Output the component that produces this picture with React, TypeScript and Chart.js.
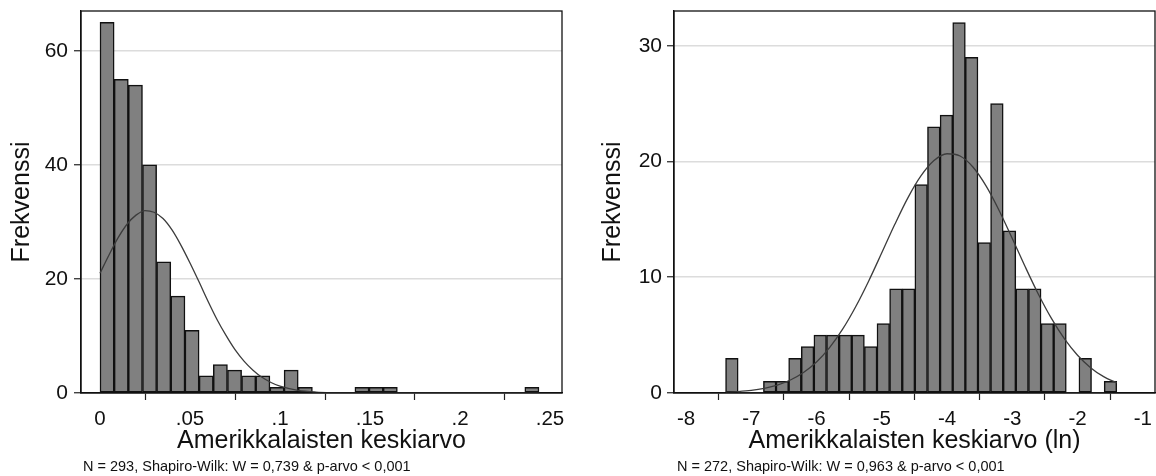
import React, { useEffect, useRef } from 'react';
import { Chart, registerables } from 'chart.js';

Chart.register(...registerables);

const FONT = '"Liberation Sans", Arial, Helvetica, sans-serif';

// ---------- Left panel: raw mean ----------
const leftBinCenters = [
  0.00393, 0.0118, 0.01967, 0.02753, 0.0354, 0.04327, 0.05114, 0.059, 0.06687, 0.07474,
  0.0826, 0.09047, 0.09834, 0.1062, 0.11407, 0.12194, 0.12981, 0.13767, 0.14554, 0.15341,
  0.16127, 0.16914, 0.17701, 0.18487, 0.19274, 0.20061, 0.20848, 0.21634, 0.22421, 0.23208,
  0.23994,
];
const leftCounts = [
  65, 55, 54, 40, 23, 17, 11, 3, 5, 4,
  3, 3, 1, 4, 1, 0, 0, 0, 1, 1,
  1, 0, 0, 0, 0, 0, 0, 0, 0, 0,
  1,
];
const leftCurveX = [
  0, 0.005, 0.01, 0.015, 0.02, 0.025, 0.03, 0.035, 0.04, 0.045, 0.05, 0.055, 0.06, 0.065,
  0.07, 0.075, 0.08, 0.085, 0.09, 0.095, 0.1, 0.11, 0.12, 0.13, 0.14, 0.16, 0.2, 0.244,
];
const leftCurveY = [
  21.0, 24.2, 27.2, 29.6, 31.2, 32.0, 31.7, 30.6, 28.6, 25.9, 22.8, 19.5, 16.1, 12.9,
  10.1, 7.6, 5.6, 4.0, 2.75, 1.84, 1.19, 0.46, 0.16, 0.05, 0.01, 0, 0, 0,
];
const leftXTicks = [0, 0.05, 0.1, 0.15, 0.2, 0.25];
const leftXTickLabels = ['0', '.05', '.1', '.15', '.2', '.25'];
const leftYTicks = [0, 20, 40, 60];
const leftYTickLabels = ['0', '20', '40', '60'];
const leftXTitle = 'Amerikkalaisten keskiarvo';
const leftNote = 'N = 293, Shapiro-Wilk: W = 0,739 & p-arvo < 0,001';

// ---------- Right panel: log mean ----------
const rightBinCenters = [
  -7.2973, -7.1039, -6.9105, -6.7171, -6.5237, -6.3303, -6.1369, -5.9435, -5.7501, -5.5567,
  -5.3633, -5.1699, -4.9765, -4.7831, -4.5897, -4.3963, -4.2029, -4.0095, -3.8161, -3.6227,
  -3.4293, -3.2359, -3.0425, -2.8491, -2.6557, -2.4623, -2.2689, -2.0755, -1.8821, -1.6887,
  -1.4953,
];
const rightCounts = [
  3, 0, 0, 1, 1, 3, 4, 5, 5, 5,
  5, 4, 6, 9, 9, 18, 23, 24, 32, 29,
  13, 25, 14, 9, 9, 6, 6, 0, 3, 0,
  1,
];
const rightCurveX = [
  -7.39, -7.2, -7.0, -6.8, -6.6, -6.4, -6.2, -6.0, -5.8, -5.6, -5.4, -5.2, -5.0, -4.8, -4.6,
  -4.4, -4.2, -4.0, -3.8, -3.6, -3.4, -3.2, -3.0, -2.8, -2.6, -2.4, -2.2, -2.0, -1.8, -1.6, -1.4,
];
const rightCurveY = [
  0.065, 0.12, 0.22, 0.4, 0.68, 1.12, 1.77, 2.68, 3.92, 5.51, 7.45, 9.68, 12.11, 14.57, 16.86,
  18.75, 20.08, 20.67, 20.47, 19.5, 17.87, 15.75, 13.35, 10.88, 8.53, 6.44, 4.67, 3.26, 2.19, 1.41, 0.88,
];
const rightXTicks = [-8, -7, -6, -5, -4, -3, -2, -1];
const rightXTickLabels = ['-8', '-7', '-6', '-5', '-4', '-3', '-2', '-1'];
const rightYTicks = [0, 10, 20, 30];
const rightYTickLabels = ['0', '10', '20', '30'];
const rightXTitle = 'Amerikkalaisten keskiarvo (ln)';
const rightNote = 'N = 272, Shapiro-Wilk: W = 0,963 & p-arvo < 0,001';

const yTitle = 'Frekvenssi';

const framePlugin = {
  id: 'frame',
  afterDraw(chart: any) {
    const { ctx, chartArea: a } = chart;
    ctx.save();
    ctx.strokeStyle = '#111';
    ctx.lineWidth = 1.3;
    ctx.strokeRect(a.left, a.top, a.right - a.left, a.bottom - a.top);
    ctx.restore();
  },
};

type PanelCfg = {
  centers: number[];
  counts: number[];
  curveX: number[];
  curveY: number[];
  xTicks: number[];
  xTickLabels: string[];
  yTicks: number[];
  yTickLabels: string[];
  xMin: number;
  xMax: number;
  yMax: number;
  xTitle: string;
  yAxisWidth: number;
  yTitlePad: number;
  yTickPad: number;
  padRight: number;
};

function makeConfig(p: PanelCfg): any {
  return {
    type: 'bar',
    data: {
      datasets: [
        {
          type: 'line',
          data: p.curveX.map((x, i) => ({ x, y: p.curveY[i] })),
          borderColor: '#3c3c3c',
          borderWidth: 1.3,
          pointRadius: 0,
          cubicInterpolationMode: 'monotone',
          fill: false,
          order: 0,
        },
        {
          type: 'bar',
          data: p.centers.map((x, i) => ({ x, y: p.counts[i] })),
          backgroundColor: '#808080',
          borderColor: '#111111',
          borderWidth: (c: any) => (c.raw && c.raw.y > 0 ? 1.5 : 0),
          borderSkipped: false,
          barPercentage: 1,
          categoryPercentage: 1,
          grouped: false,
          order: 1,
        },
      ],
    },
    options: {
      responsive: false,
      animation: false,
      events: [],
      layout: { padding: { top: 11, right: p.padRight, left: 0, bottom: 0 } },
      plugins: { legend: { display: false }, tooltip: { enabled: false } },
      scales: {
        x: {
          type: 'linear',
          min: p.xMin,
          max: p.xMax,
          offset: false,
          afterBuildTicks: (s: any) => {
            s.ticks = p.xTicks.map((v) => ({ value: v }));
          },
          afterFit: (s: any) => {
            s.height = 83;
            s.paddingLeft = 0;
            s.paddingRight = 0;
          },
          ticks: {
            autoSkip: false,
            maxRotation: 0,
            padding: 7,
            color: '#111',
            font: { family: FONT, size: 20.5 },
            callback: (_v: any, i: number) => p.xTickLabels[i],
          },
          grid: {
            display: true,
            drawOnChartArea: false,
            drawTicks: true,
            tickLength: 7,
            tickColor: '#222',
            tickWidth: 1.2,
          },
          border: { display: true, color: '#111', width: 1.3 },
          title: {
            display: true,
            text: p.xTitle,
            color: '#111',
            font: { family: FONT, size: 25 },
            padding: { top: 0, bottom: 19.5 },
          },
        },
        y: {
          type: 'linear',
          min: 0,
          max: p.yMax,
          afterBuildTicks: (s: any) => {
            s.ticks = p.yTicks.map((v) => ({ value: v }));
          },
          afterFit: (s: any) => {
            s.width = p.yAxisWidth;
            s.paddingTop = 0;
            s.paddingBottom = 0;
          },
          ticks: {
            padding: p.yTickPad,
            color: '#111',
            font: { family: FONT, size: 21 },
            callback: (_v: any, i: number) => p.yTickLabels[i],
          },
          grid: {
            display: true,
            color: '#dcdcdc',
            lineWidth: 1.5,
            drawTicks: true,
            tickLength: 7,
            tickColor: '#222',
            tickWidth: 1.2,
          },
          border: { display: true, color: '#111', width: 1.3 },
          title: {
            display: true,
            text: yTitle,
            color: '#111',
            font: { family: FONT, size: 25 },
            padding: { top: p.yTitlePad, bottom: 0 },
          },
        },
      },
    },
    plugins: [framePlugin],
  };
}

function Panel({ cfg, left }: { cfg: PanelCfg; left: number }) {
  const ref = useRef<HTMLCanvasElement>(null);
  useEffect(() => {
    if (!ref.current) return;
    const chart = new Chart(ref.current, makeConfig(cfg));
    return () => chart.destroy();
  }, [cfg]);
  return (
    <canvas
      ref={ref}
      width={578}
      height={476}
      style={{ position: 'absolute', left, top: 0, width: 578, height: 476 }}
    />
  );
}

const leftCfg: PanelCfg = {
  centers: leftBinCenters,
  counts: leftCounts,
  curveX: leftCurveX,
  curveY: leftCurveY,
  xTicks: leftXTicks,
  xTickLabels: leftXTickLabels,
  yTicks: leftYTicks,
  yTickLabels: leftYTickLabels,
  xMin: -0.01056,
  xMax: 0.25667,
  yMax: 67,
  xTitle: leftXTitle,
  yAxisWidth: 81,
  yTitlePad: 6.8,
  yTickPad: 6,
  padRight: 16,
};

const rightCfg: PanelCfg = {
  centers: rightBinCenters,
  counts: rightCounts,
  curveX: rightCurveX,
  curveY: rightCurveY,
  xTicks: rightXTicks,
  xTickLabels: rightXTickLabels,
  yTicks: rightYTicks,
  yTickLabels: rightYTickLabels,
  xMin: -8.184,
  xMax: -0.813,
  yMax: 33,
  xTitle: rightXTitle,
  yAxisWidth: 96,
  yTitlePad: 20.4,
  yTickPad: 5,
  padRight: 1,
};

const noteStyle: React.CSSProperties = {
  position: 'absolute',
  top: 458,
  fontFamily: FONT,
  fontSize: 14.5,
  lineHeight: '17px',
  color: '#111',
  whiteSpace: 'nowrap',
};

export default function App() {
  useEffect(() => {
    document.body.style.margin = '0';
  }, []);
  return (
    <div
      style={{
        position: 'absolute',
        left: 0,
        top: 0,
        width: 1156,
        height: 476,
        background: '#ffffff',
        overflow: 'hidden',
      }}
    >
      <Panel cfg={leftCfg} left={0} />
      <Panel cfg={rightCfg} left={578} />
      <div style={{ ...noteStyle, left: 83 }}>{leftNote}</div>
      <div style={{ ...noteStyle, left: 677 }}>{rightNote}</div>
    </div>
  );
}
